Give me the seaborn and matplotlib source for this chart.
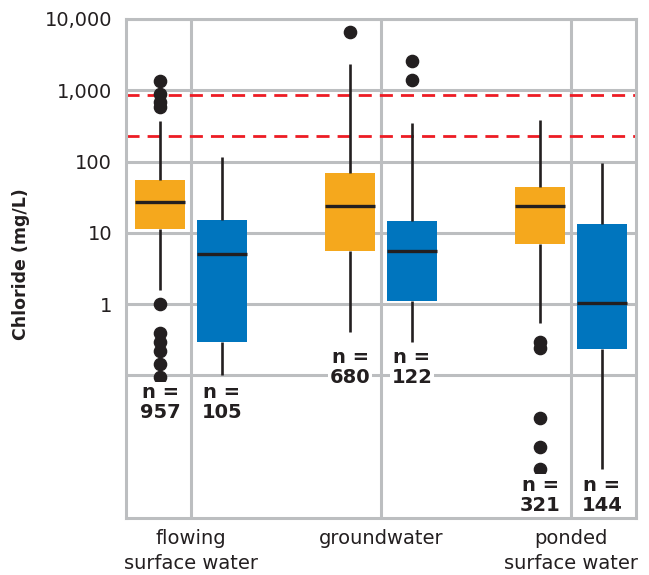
import numpy as np
import pandas as pd
import matplotlib
matplotlib.use("Agg")
import matplotlib.pyplot as plt
import seaborn as sns
from matplotlib.ticker import FixedLocator, FixedFormatter, NullLocator

# ---------------- data ----------------
categories = ["flowing\nsurface water", "groundwater", "ponded\nsurface water"]
groups = ["group A", "group B"]
colors = ["#F5A81D", "#0075BE"]

box_category = [0, 0, 1, 1, 2, 2]
box_group = [0, 1, 0, 1, 0, 1]
whisker_low = [1.57, 0.10, 0.409, 0.296, 0.536, 0.0048]
q1 = [11.3, 0.29, 5.59, 1.11, 7.01, 0.234]
median = [27.0, 5.03, 23.9, 5.48, 23.9, 1.04]
q3 = [54.8, 15.1, 68.7, 14.6, 43.8, 13.2]
whisker_high = [369, 115, 2300, 349, 377, 94]
outliers = [
    [1342, 873, 688, 574, 1.0, 0.396, 0.29, 0.22, 0.147, 0.096],
    [],
    [6530],
    [2560, 1400],
    [0.296, 0.239, 0.0254, 0.00995, 0.0048],
    [],
]
n_obs = [957, 105, 680, 122, 321, 144]

thresholds = [860, 230]
ytick_values = [0.1, 1, 10, 100, 1000, 10000]
ytick_labels = ["", "1", "10", "100", "1,000", "10,000"]

# ------------- build sample values reproducing the box statistics -------------
rows = []
for i in range(len(q1)):
    lo = sorted(v for v in outliers[i] if v < q1[i])
    hi = sorted(v for v in outliers[i] if v > q3[i])
    m = max(len(lo), len(hi)) + 2
    vals = (lo + [whisker_low[i]] + [q1[i]] * (m - len(lo) - 1)
            + [q1[i]] * m + [median[i]] + [q3[i]] * m
            + [q3[i]] * (m - len(hi) - 1) + [whisker_high[i]] + hi)
    for v in vals:
        rows.append((categories[box_category[i]], groups[box_group[i]], v))
df = pd.DataFrame(rows, columns=["type", "group", "chloride"])

# ---------------- plot ----------------
sns.set_style("white")
plt.rcParams["font.family"] = ["DejaVu Sans"]
ink = "#231F20"
gridc = "#BCBEC0"

fig = plt.figure(figsize=(6.49, 5.75), dpi=100)
ax = fig.add_axes([126 / 649, 1 - 518 / 575, 510 / 649, 499 / 575])

sns.boxplot(
    data=df, x="type", y="chloride", hue="group",
    order=categories, hue_order=groups,
    palette=dict(zip(groups, colors)), saturation=1,
    log_scale=True, whis=1.45, width=0.65, gap=0.2,
    showcaps=False, linecolor=ink, linewidth=1.9, fliersize=8.8,
    flierprops=dict(marker="o", markerfacecolor=ink, markeredgecolor=ink),
    medianprops=dict(linewidth=2.4, color=ink),
    legend=False, ax=ax,
)
for p in ax.patches:
    p.set_linewidth(0)
    p.set_edgecolor("none")

for t in thresholds:
    ax.axhline(t, color="#ED1C24", lw=2.0, dashes=(4.7, 2.9), zorder=1.5)

ax.set_yscale("log")
ax.set_ylim(0.001, 10000)
ax.set_xlim(-0.342, 2.342)
ax.yaxis.set_major_locator(FixedLocator(ytick_values))
ax.yaxis.set_major_formatter(FixedFormatter(ytick_labels))
ax.yaxis.set_minor_locator(NullLocator())
ax.set_xticks(range(len(categories)))
ax.set_xticklabels(categories, linespacing=1.4)

ax.set_axisbelow(True)
ax.grid(True, axis="both", color=gridc, lw=2.2)
for s in ax.spines.values():
    s.set_visible(True)
    s.set_color(gridc)
    s.set_linewidth(2.2)
ax.tick_params(axis="y", length=0, pad=10, labelsize=14, labelcolor=ink)
ax.tick_params(axis="x", length=0, pad=8, labelsize=14, labelcolor=ink)
ax.set_xlabel("")
ax.set_ylabel("Chloride (mg/L)", fontsize=12.5, fontweight="bold", color=ink)
ax.yaxis.set_label_coords(-0.188, 0.508)

# n labels under each box
offset = 0.65 / 4
for c in range(len(categories)):
    idx = [i for i in range(len(q1)) if box_category[i] == c]
    lowest = min(min([whisker_low[i]] + outliers[i]) for i in idx)
    ylab = lowest / 2.3
    for i in idx:
        xpos = c + (-offset if box_group[i] == 0 else offset)
        ax.text(xpos, ylab, f"n =\n{n_obs[i]}", ha="center", va="center",
                fontsize=14, fontweight="bold", color=ink, linespacing=1.05,
                bbox=dict(facecolor="white", edgecolor="none", pad=1.0), zorder=5)

fig.savefig("out.png", dpi=100)
